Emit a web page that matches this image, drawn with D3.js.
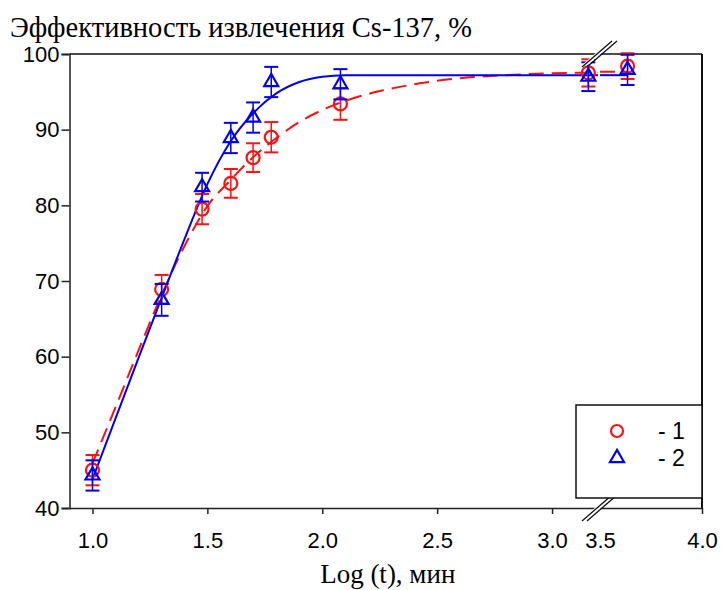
<!DOCTYPE html>
<html>
<head>
<meta charset="utf-8">
<script src="https://cdn.jsdelivr.net/npm/d3@7"></script>
<style>
  body { margin: 0; background: #fff; }
  svg text { fill: #000; }
</style>
</head>
<body>
<div id="chart"></div>
<script>
// measured points, x = log(t)
const logT = [1.0, 1.301, 1.477, 1.602, 1.699, 1.778, 2.079, 3.158, 3.635];
const eff1 = [45.0, 68.9, 79.5, 82.9, 86.3, 89.0, 93.4, 97.5, 98.4];
const err1 = [2.0, 1.9, 2.0, 1.9, 1.9, 2.0, 2.1, 1.8, 1.7];
const eff2 = [44.3, 67.5, 82.4, 88.9, 91.6, 96.3, 96.0, 97.0, 97.9];
const err2 = [2.0, 2.1, 1.9, 2.0, 2.0, 2.0, 2.0, 1.9, 2.0];

// fitted curves
const fitX = [1.0, 1.1, 1.2, 1.3, 1.4, 1.5, 1.6, 1.7, 1.8, 1.9, 2.0, 2.1, 2.25, 2.4, 2.6, 2.8, 3.0, 3.2];
const fit1 = [45.9, 53.3, 60.8, 68.1, 74.6, 79.9, 83.3, 86.4, 88.9, 91.0, 92.6, 93.8, 95.1, 96.0, 96.8, 97.2, 97.45, 97.55];
const fit2 = [43.8, 51.8, 59.8, 67.7, 75.5, 82.8, 88.4, 92.2, 94.8, 96.3, 97.0, 97.2, 97.2, 97.2, 97.2, 97.2, 97.2, 97.2];
const fitX2 = [3.5, 3.635];
const fit1b = [97.65, 97.65];
const fit2b = [97.2, 97.2];

const yTicks = [40, 50, 60, 70, 80, 90, 100];
const xTicks1 = [1.0, 1.5, 2.0, 2.5, 3.0];
const xTicks2 = [3.5, 4.0];
const seriesNames = ["- 1", "- 2"];

const W = 722, H = 590;
const m = { left: 69.5, top: 54, right: 702, bottom: 508 };
const breakPx = 599;

const svg = d3.select("#chart").append("svg")
  .attr("width", W).attr("height", H);

const x1 = d3.scaleLinear().domain([0.9, 3.2]).range([m.left, breakPx - 1]);
const x2 = d3.scaleLinear().domain([3.5, 4.0]).range([breakPx + 1, m.right]);
const xAt = v => v <= 3.2 ? x1(v) : x2(v);
const y = d3.scaleLinear().domain([40, 100]).range([m.bottom, m.top]);

// title
svg.append("text")
  .attr("x", 10).attr("y", 37)
  .style("font-family", "'Liberation Serif', 'Times New Roman', serif")
  .style("font-size", "28.5px")
  .text("Эффективность извлечения Cs-137, %");

// axes
const yAxis = svg.append("g")
  .attr("transform", `translate(${m.left},0)`)
  .call(d3.axisLeft(y).tickValues(yTicks).tickSize(8).tickPadding(2).tickFormat(d3.format("d")));
yAxis.select(".domain").attr("stroke", "#555").attr("stroke-width", 2);

const xAxis1 = svg.append("g")
  .attr("transform", `translate(0,${m.bottom})`)
  .call(d3.axisBottom(x1).tickValues(xTicks1).tickSize(6).tickPadding(18).tickSizeOuter(0).tickFormat(d3.format(".1f")));
const xAxis2 = svg.append("g")
  .attr("transform", `translate(0,${m.bottom})`)
  .call(d3.axisBottom(x2).tickValues(xTicks2).tickSize(6).tickPadding(18).tickSizeOuter(0).tickFormat(d3.format(".1f")));
xAxis2.selectAll(".tick").filter(d => d === 3.5).select("line").remove();

[yAxis, xAxis1, xAxis2].forEach(g => {
  g.selectAll("text")
    .style("font-family", "'Liberation Sans', Arial, sans-serif")
    .style("font-size", "22px");
  g.selectAll("line").attr("stroke", "#222").attr("stroke-width", 1.5);
});
xAxis1.select(".domain").attr("stroke", "#222").attr("stroke-width", 1.5);
xAxis2.select(".domain").attr("stroke", "#222").attr("stroke-width", 1.5);

// top and right frame
svg.append("line").attr("x1", m.left).attr("x2", m.right).attr("y1", m.top).attr("y2", m.top)
  .attr("stroke", "#111").attr("stroke-width", 1.5);
svg.append("line").attr("x1", m.right).attr("x2", m.right).attr("y1", m.top).attr("y2", m.bottom)
  .attr("stroke", "#111").attr("stroke-width", 2);

// x title
svg.append("text")
  .attr("x", (m.left + m.right) / 2 + 2).attr("y", 583)
  .attr("text-anchor", "middle")
  .style("font-family", "'Liberation Serif', 'Times New Roman', serif")
  .style("font-size", "27px")
  .text("Log (t), мин");

// fitted curves
const line = d3.line().x(d => xAt(d[0])).y(d => y(d[1])).curve(d3.curveMonotoneX);
const curves = [
  { a: d3.zip(fitX, fit1), b: d3.zip(fitX2, fit1b), color: "#ff1010", dash: "15,8" },
  { a: d3.zip(fitX, fit2), b: d3.zip(fitX2, fit2b), color: "#0000ee", dash: null }
];
curves.forEach(c => {
  [c.a, c.b].forEach(seg => {
    svg.append("path")
      .datum(seg)
      .attr("fill", "none")
      .attr("stroke", c.color)
      .attr("stroke-width", 2)
      .attr("stroke-dasharray", c.dash)
      .attr("d", line);
  });
});

// points with error bars
const triangle = d3.symbol().type(d3.symbolTriangle).size(85);
const series = [
  { v: eff1, e: err1, color: "#ff1010", shape: "circle" },
  { v: eff2, e: err2, color: "#0000ee", shape: "triangle" }
];
series.forEach(s => {
  const g = svg.append("g");
  const pts = logT.map((t, i) => ({ t: t, v: s.v[i], e: s.e[i] }));
  pts.forEach(p => {
    const cx = xAt(p.t), hi = y(p.v + p.e), lo = y(p.v - p.e);
    g.append("line").attr("x1", cx).attr("x2", cx).attr("y1", hi).attr("y2", lo)
      .attr("stroke", s.color).attr("stroke-width", 1.5);
    [hi, lo].forEach(yy => g.append("line")
      .attr("x1", cx - 7).attr("x2", cx + 7).attr("y1", yy).attr("y2", yy)
      .attr("stroke", s.color).attr("stroke-width", 2));
    if (s.shape === "circle") {
      g.append("circle").attr("cx", cx).attr("cy", y(p.v)).attr("r", 6.5)
        .attr("fill", "none").attr("stroke", s.color).attr("stroke-width", 2.2);
    } else {
      g.append("path").attr("d", triangle)
        .attr("transform", `translate(${cx},${y(p.v)})`)
        .attr("fill", "none").attr("stroke", s.color).attr("stroke-width", 2.2);
    }
  });
});

// axis break marks
function breakMark(cy) {
  const g = svg.append("g").attr("transform", `translate(${breakPx},${cy})`);
  g.append("polygon").attr("points", "-17,11 13,-15 19,-15 -11,11").attr("fill", "#fff");
  g.append("line").attr("x1", -17).attr("y1", 13).attr("x2", 13).attr("y2", -13)
    .attr("stroke", "#111").attr("stroke-width", 1.3);
  g.append("line").attr("x1", -12).attr("y1", 13).attr("x2", 18).attr("y2", -13)
    .attr("stroke", "#111").attr("stroke-width", 1.3);
}
breakMark(m.top);
breakMark(m.bottom);

// legend
const lg = svg.append("g");
lg.append("rect").attr("x", 576).attr("y", 405).attr("width", m.right - 576).attr("height", 93)
  .attr("fill", "#fff").attr("stroke", "#111").attr("stroke-width", 1.5);
series.forEach((s, i) => {
  const ly = 431 + i * 27;
  if (s.shape === "circle") {
    lg.append("circle").attr("cx", 617).attr("cy", ly).attr("r", 6)
      .attr("fill", "none").attr("stroke", s.color).attr("stroke-width", 2.2);
  } else {
    lg.append("path").attr("d", triangle).attr("transform", `translate(617,${ly})`)
      .attr("fill", "none").attr("stroke", s.color).attr("stroke-width", 2.2);
  }
  lg.append("text").attr("x", 658).attr("y", ly).attr("dy", "0.35em")
    .style("font-family", "'Liberation Sans', Arial, sans-serif")
    .style("font-size", "23px")
    .text(seriesNames[i]);
});
</script>
</body>
</html>
